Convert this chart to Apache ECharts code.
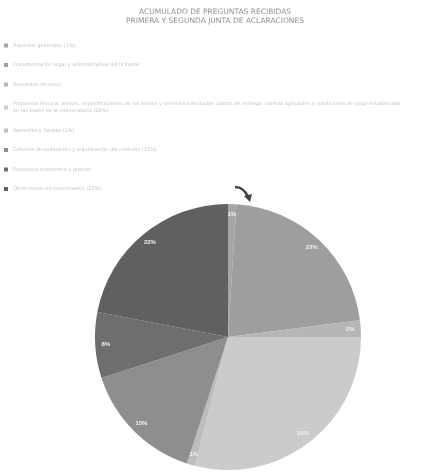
<!DOCTYPE html>
<html>
<head>
<meta charset="utf-8">
<script src="https://cdn.jsdelivr.net/npm/echarts@6/dist/echarts.min.js"></script>
<style>html,body{margin:0;padding:0;background:#fff;}#c{width:430px;height:472px;}</style>
</head>
<body>
<div id="c"></div>
<script>
var titleLines = ['ACUMULADO DE PREGUNTAS RECIBIDAS', 'PRIMERA Y SEGUNDA JUNTA DE ACLARACIONES'];
var categories = [
  'Aspectos generales (1%)',
  'Documentación legal y administrativa del licitante',
  'Requisitos técnicos',
  'Propuesta técnica, anexos, especificaciones de los bienes y servicios solicitados, plazos de entrega, normas aplicables y condiciones de pago establecidas\nen las bases de la convocatoria (29%)',
  'Garantías y fianzas (1%)',
  'Criterios de evaluación y adjudicación del contrato (15%)',
  'Propuesta económica y precios',
  'Otros temas no relacionados (22%)'
];
var values = [1, 22, 2, 29, 1, 15, 8, 22];
var colors = ['#a6a6a6', '#9e9e9e', '#b6b6b6', '#cbcbcb', '#bdbdbd', '#8e8e8e', '#6e6e6e', '#606060'];

var data = categories.map(function (n, i) { return { name: n, value: values[i], itemStyle: { color: colors[i] } }; });
var labelData = categories.map(function (n, i) { return { name: n, value: values[i] }; });

var chart = echarts.init(document.getElementById('c'), null, { renderer: 'canvas' });
chart.setOption({
  animation: false,
  title: {
    text: titleLines.join('\n'),
    left: 'center',
    top: 3,
    textStyle: { fontSize: 7.5, color: '#909090', fontWeight: 'normal', fontFamily: 'DejaVu Sans', lineHeight: 9 }
  },
  legend: {
    orient: 'vertical',
    left: 4,
    top: 42,
    padding: 0,
    icon: 'rect',
    itemWidth: 4,
    itemHeight: 4,
    itemGap: 12.5,
    selectedMode: false,
    data: categories,
    textStyle: { fontSize: 5, color: '#c4c4c4', lineHeight: 7, fontFamily: 'DejaVu Sans' }
  },
  series: [
    {
      type: 'pie',
      center: [228, 337],
      radius: [0, 133],
      startAngle: 90,
      clockwise: true,
      data: data,
      label: { show: false },
      labelLine: { show: false },
      itemStyle: { borderWidth: 0 },
      silent: true
    },
    {
      type: 'pie',
      center: [228, 337],
      radius: [106, 133],
      startAngle: 90,
      clockwise: true,
      data: labelData,
      itemStyle: { color: 'rgba(0,0,0,0)' },
      label: {
        show: true,
        position: 'inside',
        formatter: function (p) { return p.value + '%'; },
        fontSize: 6,
        color: '#f2f2f2',
        fontWeight: 'bold'
      },
      labelLine: { show: false },
      silent: true,
      legendHoverLink: false
    }
  ],
  graphic: [
    {
      type: 'bezierCurve',
      shape: { x1: 235, y1: 187, x2: 248, y2: 197, cpx1: 244, cpy1: 187 },
      style: { stroke: '#444', lineWidth: 2.5, fill: null }
    },
    {
      type: 'polygon',
      shape: { points: [[244, 196], [252, 194], [250, 202]] },
      style: { fill: '#444' }
    }
  ]
});
</script>
</body>
</html>
